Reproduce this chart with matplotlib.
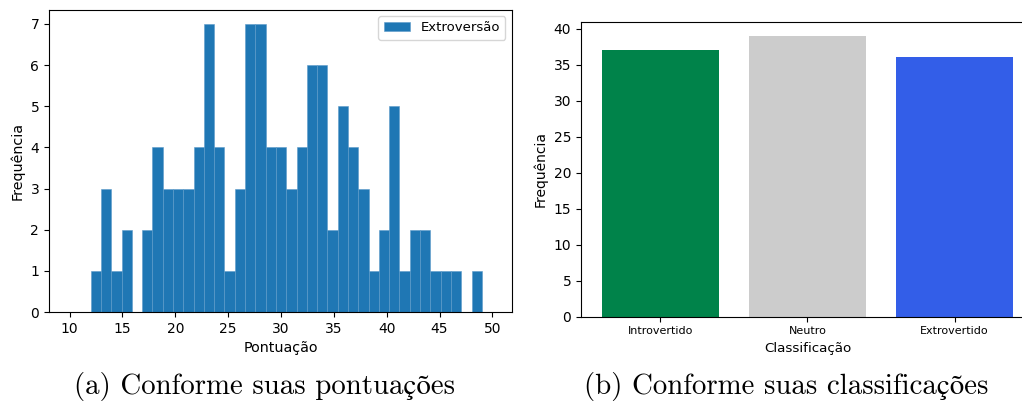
import numpy as np
import matplotlib.pyplot as plt

# pontuações: um bin por valor inteiro de 12 a 49
pontuacoes = np.arange(12, 50)
frequencias = [1, 3, 1, 2, 0, 2, 4, 3, 3, 3,
               4, 7, 4, 1, 3, 7, 7, 4, 4, 3,
               4, 6, 6, 2, 5, 4, 3, 1, 2, 5,
               1, 2, 2, 1, 1, 1, 0, 1]

classes = ['Introvertido', 'Neutro', 'Extrovertido']
contagens = [37, 39, 36]
cores = ['#00834a', '#cccccc', '#335ee8']

fig = plt.figure(figsize=(10.22, 4.03), dpi=100)

# (a) histograma
ax1 = fig.add_axes([0.0479, 0.2258, 0.4530, 0.7506])
bordas = np.linspace(12, 49, len(pontuacoes) + 1)
centros = (bordas[:-1] + bordas[1:]) / 2
ax1.hist(centros, bins=bordas, weights=frequencias, color='#1f77b4',
         edgecolor='#5d9bc9', linewidth=0.4, label='Extroversão')
ax1.set_xlim(8.05, 51.85)
ax1.set_xticks(range(10, 51, 5))
ax1.set_xlabel('Pontuação', fontsize=10.3)
ax1.set_ylabel('Frequência', fontsize=10.3)
ax1.legend(loc='upper right', fontsize=9.5)

# (b) barras por classificação
ax2 = fig.add_axes([0.5685, 0.2141, 0.4432, 0.7320])
ax2.bar(classes, contagens, color=cores, width=0.8)
ax2.set_xlim(-0.54, 2.54)
ax2.tick_params(axis='x', labelsize=8)
ax2.tick_params(axis='y', labelsize=10)
ax2.set_xlabel('Classificação', fontsize=9.7, labelpad=4)
ax2.set_ylabel('Frequência', fontsize=10)

legenda = dict(ha='center', va='baseline', fontsize=20.8,
               family=['cmr10', 'STIXGeneral'])
fig.text(0.259, 0.022, '(a) Conforme suas pontuações', **legenda)
fig.text(0.769, 0.022, '(b) Conforme suas classificações', **legenda)

fig.savefig('out.png', dpi=100)
